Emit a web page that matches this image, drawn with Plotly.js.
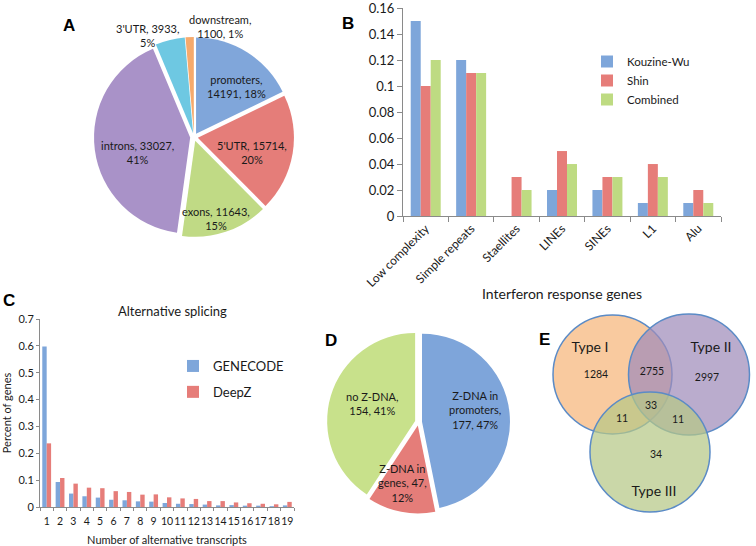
<!DOCTYPE html>
<html><head><meta charset="utf-8">
<script src="https://cdn.plot.ly/plotly-3.0.1.min.js"></script>
<style>html,body{margin:0;padding:0;background:#fff}#chart{width:756px;height:546px}</style>
</head><body><div id="chart"></div>
<script>
// ---------- DATA ----------
// Panel A: genomic regions of Z-DNA
const regionLabels = ['promoters', "5'UTR", 'exons', 'introns', "3'UTR", 'downstream'];
const regionCounts = [14191, 15714, 11643, 33027, 3933, 1100];
// Panel B: interferon response genes by repeat type
const repeatCategories = ['Low complexity', 'Simple repeats', 'Staellites', 'LINEs', 'SINEs', 'L1', 'Alu'];
const kouzineWu = [0.15, 0.12, 0, 0.02, 0.02, 0.01, 0.01];
const shin = [0.10, 0.11, 0.03, 0.05, 0.03, 0.04, 0.02];
const combined = [0.12, 0.11, 0.02, 0.04, 0.03, 0.03, 0.01];
// Panel C: alternative splicing
const transcriptNumbers = ['1','2','3','4','5','6','7','8','9','10','11','12','13','14','15','16','17','18','19'];
const genecode = [0.598, 0.093, 0.05, 0.04, 0.035, 0.027, 0.025, 0.021, 0.02, 0.015, 0.012, 0.011, 0.009, 0.006, 0.007, 0.005, 0.005, 0.003, 0.006];
const deepz = [0.237, 0.108, 0.087, 0.072, 0.07, 0.059, 0.056, 0.046, 0.047, 0.036, 0.032, 0.03, 0.022, 0.022, 0.017, 0.014, 0.012, 0.01, 0.019];
// Panel D: Z-DNA in interferon response genes
const zdnaLabels = ['Z-DNA in promoters', 'Z-DNA in genes', 'no Z-DNA'];
const zdnaCounts = [177, 47, 154];
// Panel E: Venn of interferon types
const vennSetNames = ['Type I', 'Type II', 'Type III'];
const vennRegionNames = ['I', 'I&II', 'II', 'I&III', 'I&II&III', 'II&III', 'III'];
const vennCounts = [1284, 2755, 2997, 11, 33, 11, 34];

// ---------- LAYOUT GEOMETRY (page pixels on a hidden page axis) ----------
const W = 756, H = 546;
const vennCircles = [
  {cx: 612.5, cy: 374.5, r: 59.5, fill: 'rgba(247,182,122,0.72)'},
  {cx: 689, cy: 374.5, r: 60.5, fill: 'rgba(160,140,186,0.72)'},
  {cx: 650, cy: 452, r: 60, fill: 'rgba(181,199,135,0.72)'}
];
const vennCountPos = [[596,375],[652,372],[707,378],[622,419],[651,406],[678,420],[656,455]];
const vennNamePos = [[590,348],[711,348],[654,492]];
const labelPosA = [[236,86],[252,152],[216,218],[137,152],[147,35],[220,26]];
const labelPosD = [[475,410],[402,483],[372,403]];

const sum = a => a.reduce((s, v) => s + v, 0);
const pct = (v, a) => Math.round(v / sum(a) * 100) + '%';

const breakAfterLabelA = [true, false, false, false, false, true];
const textA = regionLabels.map((l, i) => breakAfterLabelA[i]
  ? l + ',<br>' + regionCounts[i] + ', ' + pct(regionCounts[i], regionCounts)
  : l + ', ' + regionCounts[i] + ',<br>' + pct(regionCounts[i], regionCounts));
const textD = zdnaLabels.map((l, i) => {
  const p = pct(zdnaCounts[i], zdnaCounts);
  if (l.indexOf(' in ') > 0) {
    const parts = l.split(' in ');
    if (parts[1] === 'genes') return parts[0] + ' in<br>' + parts[1] + ', ' + zdnaCounts[i] + ',<br>' + p;
    return parts[0] + ' in<br>' + parts[1] + ',<br>' + zdnaCounts[i] + ', ' + p;
  }
  return l + ',<br>' + zdnaCounts[i] + ', ' + p;
});

const FONT = 'Lato, "Open Sans", sans-serif';
const TXT = '#1a1a1a';
const blue = '#7ea6da', red = '#e67d79', green = '#bedb82';

const traces = [
  { type: 'pie', labels: regionLabels, values: regionCounts, textinfo: 'none',
    sort: false, direction: 'clockwise', rotation: 0,
    pull: 0.04, hoverinfo: 'none', showlegend: false,
    marker: {colors: ['#80a6da', '#e57d79', '#c0da85', '#a992c8', '#6ec8e2', '#f6aa6c'], line: {width: 0}},
    domain: {x: [94 / W, 294 / W], y: [1 - 237 / H, 1 - 37 / H]} },
  { type: 'bar', x: repeatCategories, y: kouzineWu, name: 'Kouzine-Wu', marker: {color: blue}, xaxis: 'x', yaxis: 'y', legend: 'legend' },
  { type: 'bar', x: repeatCategories, y: shin, name: 'Shin', marker: {color: red}, xaxis: 'x', yaxis: 'y', legend: 'legend' },
  { type: 'bar', x: repeatCategories, y: combined, name: 'Combined', marker: {color: green}, xaxis: 'x', yaxis: 'y', legend: 'legend' },
  { type: 'bar', x: transcriptNumbers, y: genecode, name: 'GENECODE', marker: {color: blue}, xaxis: 'x2', yaxis: 'y2', legend: 'legend2', legendgroup: 'g1' },
  { type: 'bar', x: transcriptNumbers, y: deepz, name: 'DeepZ', marker: {color: red}, xaxis: 'x2', yaxis: 'y2', legend: 'legend2', legendgroup: 'g2' },
  { type: 'pie', labels: zdnaLabels, values: zdnaCounts, textinfo: 'none',
    sort: false, direction: 'clockwise', rotation: 0,
    pull: 0.04, hoverinfo: 'none', showlegend: false,
    marker: {colors: ['#7ea5da', '#e57d79', '#c8e18b'], line: {width: 0}},
    domain: {x: [327 / W, 510 / W], y: [1 - 513.5 / H, 1 - 330.5 / H]} },
  { type: 'scatter', mode: 'text', x: vennCountPos.map(p => p[0]), y: vennCountPos.map(p => p[1]),
    text: vennCounts.map(String), textfont: {family: FONT, size: 10.5, color: TXT},
    xaxis: 'x3', yaxis: 'y3', showlegend: false, hoverinfo: 'none', cliponaxis: false },
  { type: 'scatter', mode: 'text', x: vennNamePos.map(p => p[0]), y: vennNamePos.map(p => p[1]),
    text: vennSetNames, textfont: {family: FONT, size: 14, color: TXT},
    xaxis: 'x3', yaxis: 'y3', showlegend: false, hoverinfo: 'none', cliponaxis: false }
];

const axLine = '#8a8a8a';
const letters = [['A',69,25],['B',348,23],['C',9,300],['D',331,340],['E',544,339]];
const annotations = letters.map(l => ({ text: '<b>' + l[0] + '</b>', x: l[1], y: l[2], xref: 'x3', yref: 'y3',
  showarrow: false, font: {family: 'Liberation Sans, Arial, sans-serif', size: 17, color: '#000'} }));
annotations.push({ text: 'Alternative splicing', x: 172, y: 311, xref: 'x3', yref: 'y3', showarrow: false,
  font: {family: FONT, size: 13, color: TXT} });
textA.forEach((t, i) => annotations.push({ text: t, x: labelPosA[i][0], y: labelPosA[i][1], xref: 'x3', yref: 'y3',
  showarrow: false, font: {family: FONT, size: 11, color: TXT} }));
textD.forEach((t, i) => annotations.push({ text: t, x: labelPosD[i][0], y: labelPosD[i][1], xref: 'x3', yref: 'y3',
  showarrow: false, font: {family: FONT, size: 11, color: TXT} }));

const shapes = vennCircles.map(c => ({ type: 'circle', xref: 'x3', yref: 'y3',
  x0: c.cx - c.r, x1: c.cx + c.r, y0: c.cy - c.r, y1: c.cy + c.r,
  fillcolor: c.fill, line: {color: '#5b8bc6', width: 1.5}, layer: 'below' }));

const layout = {
  width: W, height: H, autosize: false,
  margin: {l: 0, r: 0, t: 0, b: 0},
  paper_bgcolor: '#fff', plot_bgcolor: 'rgba(0,0,0,0)',
  font: {family: FONT, color: TXT},
  hovermode: false, barmode: 'group', bargap: 0.34, bargroupgap: 0,
  xaxis: { domain: [403 / W, 721 / W], anchor: 'y', type: 'category', tickangle: -45,
    ticks: 'outside', tickson: 'boundaries', ticklen: 5, tickcolor: axLine,
    showline: true, linecolor: axLine, showgrid: false, zeroline: false,
    tickfont: {size: 12}, title: {text: 'Interferon response genes', font: {size: 14}, standoff: 0} },
  yaxis: { domain: [1 - 216 / H, 1 - 8 / H], anchor: 'x', range: [0, 0.1601], dtick: 0.02,
    ticks: 'outside', ticklen: 5, tickcolor: axLine, showline: true, linecolor: axLine,
    showgrid: false, zeroline: false, tickfont: {size: 13}, ticklabeloverflow: 'allow' },
  xaxis2: { domain: [40 / W, 294 / W], anchor: 'y2', type: 'category', tickangle: 0,
    ticks: 'outside', tickson: 'boundaries', ticklen: 3, tickcolor: axLine,
    showline: true, linecolor: axLine, showgrid: false, zeroline: false,
    tickfont: {size: 10.5}, ticklabelstandoff: 4,
    title: {text: 'Number of alternative transcripts', font: {size: 11}} },
  yaxis2: { domain: [1 - 507 / H, 1 - 319 / H], anchor: 'x2', range: [0, 0.7], dtick: 0.1,
    ticks: 'outside', ticklen: 3, tickcolor: axLine, showline: true, linecolor: axLine,
    showgrid: false, zeroline: false, tickfont: {size: 11}, ticklabeloverflow: 'allow',
    title: {text: 'Percent of genes', font: {size: 11}} },
  xaxis3: { domain: [0, 1], anchor: 'y3', range: [0, W], visible: false, fixedrange: true },
  yaxis3: { domain: [0, 1], anchor: 'x3', range: [H, 0], visible: false, fixedrange: true },
  legend: { x: 587 / W, y: 1 - 47 / H, xanchor: 'left', yanchor: 'top', bgcolor: 'rgba(0,0,0,0)',
    font: {size: 11.5}, itemwidth: 30 },
  legend2: { x: 173 / W, y: 1 - 351 / H, xanchor: 'left', yanchor: 'top', bgcolor: 'rgba(0,0,0,0)',
    font: {size: 13}, itemwidth: 30, tracegroupgap: 6 },
  annotations: annotations,
  shapes: shapes
};

Plotly.newPlot('chart', traces, layout, {staticPlot: true, displayModeBar: false});
</script>
</body></html>
